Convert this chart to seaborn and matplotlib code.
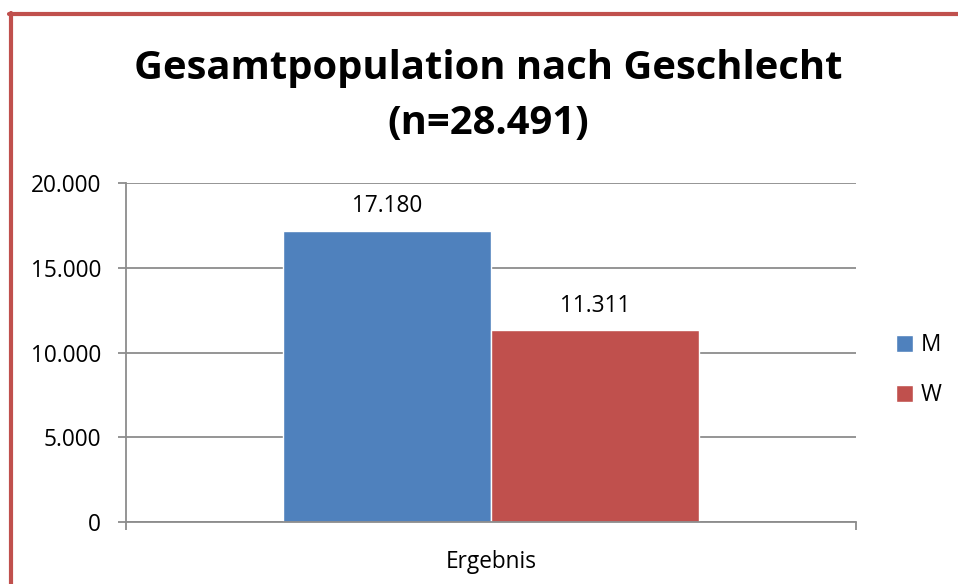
import matplotlib
matplotlib.use("Agg")
import matplotlib.pyplot as plt
import seaborn as sns
import pandas as pd
from matplotlib.lines import Line2D
from matplotlib.ticker import FuncFormatter

# chart data
categories = ["Ergebnis"]
groups = ["M", "W"]
values = [17180, 11311]
title = "Gesamtpopulation nach Geschlecht\n(n=28.491)"

COLORS = ["#4F81BD", "#C0504D"]
GRID = "#8C8C8C"
FS = 16.3


def de_fmt(v, pos=None):
    # german thousands separator
    return f"{int(round(v)):,}".replace(",", ".")


def main():
    sns.set_theme(style="white")
    plt.rcParams["font.family"] = ["Open Sans", "DejaVu Sans"]
    plt.rcParams["text.color"] = "black"

    df = pd.DataFrame({"cat": categories * len(groups), "Geschlecht": groups, "value": values})

    fig = plt.figure(figsize=(9.58, 5.84), dpi=100)
    ax = fig.add_axes([126 / 958, 1 - 522 / 584, 730 / 958, 339 / 584])

    sns.barplot(data=df, x="cat", y="value", hue="Geschlecht", palette=COLORS,
                width=0.57, saturation=1, ax=ax, legend=True)

    ax.set_xlim(-0.5, 0.5)
    ax.set_ylim(0, 20000)
    ax.set_yticks([0, 5000, 10000, 15000, 20000])
    ax.yaxis.set_major_formatter(FuncFormatter(de_fmt))
    ax.yaxis.grid(True, color=GRID, linewidth=1.3)
    ax.set_axisbelow(True)
    ax.set_xlabel("")
    ax.set_ylabel("")

    for s in ["top", "right"]:
        ax.spines[s].set_visible(False)
    for s in ["left", "bottom"]:
        ax.spines[s].set_color(GRID)
        ax.spines[s].set_linewidth(1.3)

    ax.tick_params(axis="y", direction="out", length=6, width=1.3, color=GRID,
                   labelsize=FS, labelcolor="black", pad=12, left=True)
    ax.tick_params(axis="x", which="major", length=0, labelsize=FS, labelcolor="black", pad=20)
    ax.set_xticks([-0.5, 0.5], minor=True)
    ax.tick_params(axis="x", which="minor", direction="out", length=6, width=1.3,
                   color=GRID, bottom=True)

    # value labels
    for cont in ax.containers:
        ax.bar_label(cont, labels=[de_fmt(b.get_height()) for b in cont],
                     padding=9, fontsize=FS, color="black")

    # legend on the right
    ax.legend(loc="center left", bbox_to_anchor=(1.027, 0.448), frameon=False,
              fontsize=FS, handlelength=0.75, handleheight=0.75,
              handletextpad=0.35, labelspacing=1.15)

    fig.text(488 / 958, 1 - 96 / 584, title, ha="center", va="center",
             fontsize=28.8, fontweight="bold", linespacing=1.55, color="black")

    # red frame (left and top edge)
    red = "#C0504D"
    fig.add_artist(Line2D([11 / 958, 11 / 958], [0, 1 - 13 / 584], transform=fig.transFigure,
                          color=red, linewidth=3))
    fig.add_artist(Line2D([9 / 958, 1], [1 - 14 / 584, 1 - 14 / 584], transform=fig.transFigure,
                          color=red, linewidth=3))

    fig.savefig("out.png", dpi=100)


if __name__ == "__main__":
    main()
